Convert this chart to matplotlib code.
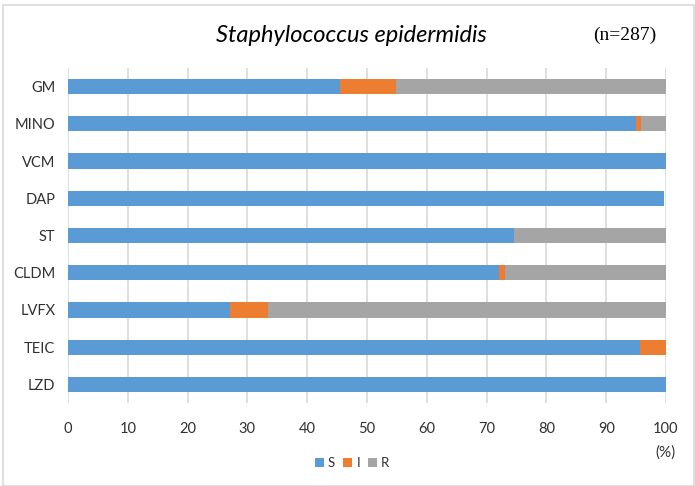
import numpy as np
import matplotlib
matplotlib.use('Agg')
import matplotlib.pyplot as plt
from matplotlib.patches import Rectangle

plt.rcParams['font.family'] = ['Lato', 'DejaVu Sans']

drugs = ['GM', 'MINO', 'VCM', 'DAP', 'ST', 'CLDM', 'LVFX', 'TEIC', 'LZD']
s_vals = [45.5, 94.9, 100.0, 99.6, 74.6, 72.1, 27.1, 95.7, 100.0]
i_vals = [9.3, 0.9, 0.0, 0.0, 0.0, 0.9, 6.4, 4.3, 0.0]
r_vals = [45.2, 4.2, 0.0, 0.0, 25.4, 27.0, 66.5, 0.0, 0.0]
xticks = [0, 10, 20, 30, 40, 50, 60, 70, 80, 90, 100]

col_s = '#5B9BD5'
col_i = '#ED7D31'
col_r = '#A5A5A5'

fig = plt.figure(figsize=(6.95, 4.86), dpi=100)
ax = fig.add_axes([68/695, 1-403/486, (666-68)/695, (403-68)/486])

y = np.arange(len(drugs))
s = np.array(s_vals)
i = np.array(i_vals)
r = np.array(r_vals)
h = 0.41
ax.barh(y, s, height=h, color=col_s, label='S', zorder=3)
ax.barh(y, i, left=s, height=h, color=col_i, label='I', zorder=3)
ax.barh(y, r, left=s+i, height=h, color=col_r, label='R', zorder=3)

ax.set_xlim(0, 100)
ax.set_ylim(len(drugs)-0.5, -0.5)
ax.set_yticks(y)
ax.set_yticklabels(drugs, fontsize=10.5, color='#303030')
ax.set_xticks(xticks)
ax.set_xticklabels([str(t) for t in xticks], fontsize=10.5, color='#303030')
ax.tick_params(length=0, pad=14, axis='x')
ax.tick_params(length=0, pad=9, axis='y')
ax.grid(axis='x', color='#D9D9D9', linewidth=1.2, zorder=0)
for sp in ax.spines.values():
    sp.set_visible(False)

fig.text(351/695, 1-35/486, 'Staphylococcus epidermidis', fontsize=17,
         style='italic', ha='center', va='center', color='black')
fig.text(625/695, 1-35/486, '(n=287)', fontsize=14, family='Liberation Serif',
         ha='center', va='center', color='black')
fig.text(666/695, 1-453/486, '(%)', fontsize=11, ha='center', va='center', color='#303030')

fig.legend(loc='center', bbox_to_anchor=(352/695, 1-463/486), ncol=3, frameon=False,
           fontsize=9.5, handlelength=0.7, handleheight=0.7, handletextpad=0.3,
           columnspacing=0.6, labelcolor='#303030')

fig.patches.append(Rectangle((3/695, 0.0), 1-4/695, 1-5/486, transform=fig.transFigure,
                             fill=False, edgecolor='#D9D9D9', linewidth=1.2))

fig.savefig('out.png', dpi=100)
